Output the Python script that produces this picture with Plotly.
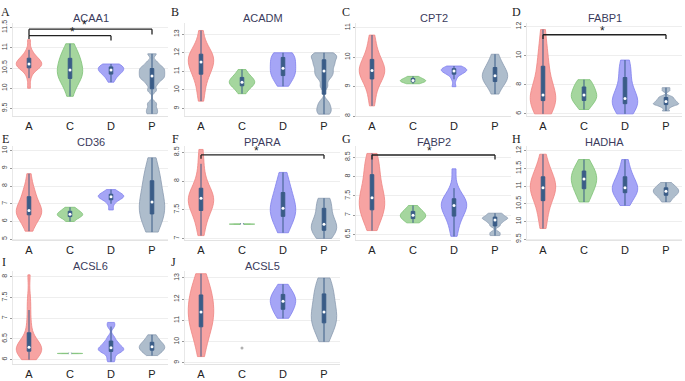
import numpy as np
import plotly.graph_objects as go

CATS = ["A", "C", "D", "P"]
GENES = ["ACAA1", "ACADM", "CPT2", "FABP1", "CD36", "PPARA", "FABP2", "HADHA", "ACSL6", "ACSL5"]
LETTERS = ["A", "B", "C", "D", "E", "F", "G", "H", "I", "J"]

# expression values per group
ACAA1 = {
    "A": [10.0, 10.25, 10.4, 10.47, 10.5, 10.52, 10.55, 10.58, 10.6, 10.6, 10.62, 10.65, 10.68, 10.72, 10.75, 10.78, 10.85, 10.95, 11.2],
    "C": [9.8, 10.0, 10.15, 10.22, 10.25, 10.3, 10.38, 10.42, 10.45, 10.5, 10.58, 10.65, 10.72, 10.8, 10.85, 10.92, 11.1],
    "D": [10.15, 10.25, 10.32, 10.36, 10.4, 10.42, 10.45, 10.48, 10.5, 10.52, 10.55, 10.58, 10.6],
    "P": [9.37, 9.48, 9.62, 9.95, 10.1, 10.2, 10.25, 10.3, 10.35, 10.4, 10.45, 10.5, 10.55, 10.65, 10.85],
}
ACADM = {
    "A": [9.4, 9.9, 10.3, 10.7, 10.9, 11.0, 11.2, 11.35, 11.5, 11.6, 11.7, 11.8, 11.9, 12.0, 12.2, 12.5, 13.2],
    "C": [9.8, 10.05, 10.2, 10.3, 10.38, 10.42, 10.5, 10.6, 10.7, 10.85, 11.1],
    "D": [10.2, 10.5, 10.7, 10.85, 11.0, 11.1, 11.25, 11.5, 11.7, 11.8, 11.9, 12.0],
    "P": [8.7, 8.9, 9.1, 9.35, 10.2, 10.6, 10.8, 10.95, 11.1, 11.3, 11.4, 11.55, 11.7, 11.8, 11.9, 12.0],
}
CPT2 = {
    "A": [8.35, 8.7, 8.95, 9.15, 9.3, 9.35, 9.45, 9.5, 9.55, 9.6, 9.7, 9.8, 9.9, 10.0, 10.2, 10.45, 10.75],
    "C": [9.1, 9.15, 9.18, 9.2, 9.22, 9.25, 9.3, 9.35],
    "D": [9.0, 9.25, 9.4, 9.45, 9.5, 9.52, 9.55, 9.58, 9.6, 9.62, 9.65, 9.7],
    "P": [8.75, 9.0, 9.15, 9.2, 9.3, 9.35, 9.4, 9.5, 9.6, 9.7, 9.85, 10.1],
}
FABP1 = {
    "A": [6.0, 6.3, 6.5, 6.7, 6.9, 6.95, 7.0, 7.1, 7.2, 7.3, 7.5, 7.9, 8.4, 8.9, 9.4, 9.6, 10.2, 11.0, 11.8],
    "C": [6.3, 6.6, 6.85, 6.95, 7.1, 7.2, 7.3, 7.45, 7.6, 7.8, 8.0, 8.15, 8.35],
    "D": [6.0, 6.3, 6.5, 6.7, 6.8, 6.9, 7.0, 7.1, 7.4, 7.9, 8.5, 9.0, 9.3, 9.7],
    "P": [6.2, 6.45, 6.6, 6.65, 6.7, 6.75, 6.85, 6.9, 7.0, 7.1, 7.2, 7.6, 7.8],
}
CD36 = {
    "A": [5.45, 5.8, 6.1, 6.3, 6.45, 6.5, 6.55, 6.6, 6.65, 6.8, 7.0, 7.3, 7.5, 7.7, 8.0, 8.7],
    "C": [6.0, 6.2, 6.3, 6.35, 6.4, 6.45, 6.55, 6.65, 6.8],
    "D": [6.65, 7.0, 7.2, 7.3, 7.35, 7.4, 7.45, 7.5, 7.55, 7.65, 7.8],
    "P": [5.4, 5.8, 6.1, 6.4, 6.5, 6.7, 6.9, 7.1, 7.3, 7.6, 8.0, 8.4, 8.6, 8.9, 9.6],
}
PPARA = {
    "A": [7.05, 7.2, 7.35, 7.45, 7.5, 7.55, 7.6, 7.65, 7.7, 7.72, 7.75, 7.8, 7.85, 7.95, 8.1, 8.3, 8.55],
    "C": [7.245, 7.25, 7.25, 7.255],
    "D": [7.1, 7.25, 7.35, 7.42, 7.48, 7.5, 7.55, 7.65, 7.75, 7.85, 7.95, 8.15],
    "P": [7.0, 7.08, 7.12, 7.15, 7.2, 7.22, 7.25, 7.3, 7.4, 7.5, 7.6, 7.65, 7.7],
}
FABP2 = {
    "A": [6.6, 6.85, 7.0, 7.1, 7.15, 7.2, 7.3, 7.4, 7.45, 7.55, 7.65, 7.8, 8.0, 8.2, 8.3, 8.45, 8.6],
    "C": [6.8, 6.88, 6.92, 6.97, 7.0, 7.03, 7.08, 7.15, 7.25],
    "D": [6.45, 6.7, 6.9, 7.0, 7.1, 7.2, 7.25, 7.3, 7.35, 7.4, 7.5, 7.7, 8.2],
    "P": [6.47, 6.55, 6.72, 6.8, 6.85, 6.9, 6.92, 6.95, 7.0, 7.05],
}
HADHA = {
    "A": [9.8, 10.1, 10.35, 10.55, 10.7, 10.8, 10.9, 10.95, 11.0, 11.05, 11.15, 11.3, 11.4, 11.55, 11.9],
    "C": [10.55, 10.75, 10.9, 11.0, 11.1, 11.2, 11.25, 11.35, 11.45, 11.55, 11.75],
    "D": [10.45, 10.65, 10.8, 10.85, 10.9, 10.95, 11.05, 11.15, 11.3, 11.45, 11.75],
    "P": [10.55, 10.7, 10.78, 10.83, 10.87, 10.92, 10.98, 11.1],
}
ACSL6 = {
    "A": [6.0, 6.05, 6.1, 6.15, 6.2, 6.22, 6.25, 6.28, 6.3, 6.3, 6.32, 6.35, 6.4, 6.5, 6.7, 6.9, 7.2, 7.5, 8.05],
    "C": [6.145, 6.15, 6.15, 6.155],
    "D": [5.95, 6.05, 6.15, 6.2, 6.22, 6.25, 6.28, 6.3, 6.35, 6.4, 6.45, 6.55, 6.8, 6.9],
    "P": [6.1, 6.18, 6.23, 6.27, 6.3, 6.33, 6.37, 6.42, 6.5, 6.6],
}
ACSL5 = {
    "A": [9.3, 9.8, 10.2, 10.5, 10.7, 10.9, 11.0, 11.15, 11.3, 11.5, 11.7, 11.9, 12.0, 12.2, 12.35, 12.6, 12.9, 13.2],
    "C": [9.7],
    "D": [11.1, 11.3, 11.45, 11.6, 11.75, 11.85, 11.95, 12.05, 12.15, 12.3, 12.45, 12.7],
    "P": [10.0, 10.4, 10.7, 10.85, 11.0, 11.1, 11.2, 11.4, 11.6, 11.9, 12.1, 12.3, 12.5, 12.8, 13.0],
}
DATA = {"ACAA1": ACAA1, "ACADM": ACADM, "CPT2": CPT2, "FABP1": FABP1, "CD36": CD36,
        "PPARA": PPARA, "FABP2": FABP2, "HADHA": HADHA, "ACSL6": ACSL6, "ACSL5": ACSL5}

# y axis ranges and tick steps
Y_RANGES = {"ACAA1": [9.31, 11.62], "ACADM": [8.59, 13.62], "CPT2": [8.0, 11.17], "FABP1": [5.84, 12.27],
            "CD36": [4.94, 10.28], "PPARA": [6.97, 8.615], "FABP2": [6.35, 8.80], "HADHA": [9.47, 12.14],
            "ACSL6": [5.89, 8.15], "ACSL5": [8.94, 13.34]}
Y_DTICK = {"ACAA1": 0.5, "ACADM": 1, "CPT2": 1, "FABP1": 2, "CD36": 1, "PPARA": 0.5,
           "FABP2": 0.5, "HADHA": 0.5, "ACSL6": 0.5, "ACSL5": 1}

# significance brackets: gene, from, to, bar level, left drop, right drop, star x
BRACKETS = [
    ("ACAA1", "A", "P", 11.46, 11.30, 11.33, 1.35),
    ("ACAA1", "A", "D", 11.30, 11.22, 11.18, 1.05),
    ("FABP1", "A", "P", 11.44, 11.14, 11.14, 1.45),
    ("PPARA", "A", "P", 8.455, 8.39, 8.39, 1.35),
    ("FABP2", "A", "P", 8.56, 8.44, 8.44, 1.4),
]

BW = {("ACAA1", "P"): 0.06, ("ACADM", "P"): 0.17, ("FABP1", "P"): 0.09, ("PPARA", "C"): 0.004,
      ("FABP2", "P"): 0.04, ("ACSL6", "C"): 0.004, ("ACSL6", "D"): 0.06}

FILL = {"A": "#f7a3a2", "C": "#a5d69e", "D": "#a5a5f6", "P": "#aebdcc"}
LINE = {"A": "#ef8583", "C": "#7dc176", "D": "#8080ee", "P": "#8b9cb1"}
BOX = "#3a5c87"

# panel geometry (pixels in a 685x381 canvas)
W, H = 685, 381
COL_X = [(12.6, 168.4), (184.6, 340.4), (355.6, 511.4), (526.6, 682.4)]
ROW_Y = [(20, 115), (145, 241), (272, 367)]
TITLE_Y = [15, 141, 267]
LETTER_POS = [(5, 9), (175, 9), (346, 9), (516, 9), (5, 138), (175, 138), (346, 138), (516, 138), (4, 263), (174, 263)]

fig = go.Figure()
layout = dict(width=W, height=H, margin=dict(l=0, r=0, t=0, b=0), paper_bgcolor="white",
              plot_bgcolor="white", violinmode="overlay", showlegend=False)
annotations = []
shapes = []

for i, gene in enumerate(GENES):
    r, c = divmod(i, 4)
    n = i + 1
    xa = "x" if n == 1 else f"x{n}"
    ya = "y" if n == 1 else f"y{n}"
    xk = "xaxis" if n == 1 else f"xaxis{n}"
    yk = "yaxis" if n == 1 else f"yaxis{n}"
    x0, x1 = COL_X[c]
    yt, yb = ROW_Y[r]
    layout[xk] = dict(domain=[x0 / W, x1 / W], anchor=ya, type="category", categoryorder="array",
                      categoryarray=CATS, range=[-0.4, 3.4], showgrid=False, zeroline=False,
                      showline=True, linecolor="#e3e3e3", linewidth=1, ticks="",
                      tickfont=dict(family="Liberation Sans, Arial", size=11, color="#222"))
    lo, hi = Y_RANGES[gene]
    d = Y_DTICK[gene]
    layout[yk] = dict(domain=[1 - yb / H, 1 - yt / H], anchor=xa, range=[lo, hi], dtick=d, tick0=0,
                      showgrid=True, gridcolor="#eeeeee", gridwidth=1, zeroline=False,
                      showline=True, linecolor="#e8e8e8", linewidth=1, ticks="outside", ticklen=2,
                      tickcolor="#999", tickangle=-90,
                      tickfont=dict(family="Liberation Sans, Arial", size=7, color="#444"))
    for cat in CATS:
        vals = DATA[gene][cat]
        if len(vals) == 1:
            fig.add_trace(go.Scatter(x=[cat], y=vals, xaxis=xa, yaxis=ya, mode="markers",
                                     marker=dict(size=3, color="#b0b0b0"), hoverinfo="skip"))
            continue
        kw = {}
        if (gene, cat) in BW:
            kw["bandwidth"] = BW[(gene, cat)]
        fig.add_trace(go.Violin(
            x=[cat] * len(vals), y=vals, xaxis=xa, yaxis=ya, name=f"{gene}-{cat}",
            fillcolor=FILL[cat], line=dict(color=LINE[cat], width=0.8), opacity=1,
            spanmode="hard", width=0.62, points=False, scalemode="width",
            box=dict(visible=True, width=0.14, fillcolor=BOX, line=dict(color=BOX, width=1)),
            meanline=dict(visible=False), hoverinfo="skip", **kw))
        fig.add_trace(go.Scatter(x=[cat], y=[float(np.median(vals))], xaxis=xa, yaxis=ya, mode="markers",
                                 marker=dict(size=3, color="white"), hoverinfo="skip"))
    annotations.append(dict(text=gene, x=(x0 + x1) / 2 / W, y=1 - TITLE_Y[r] / H, xref="paper",
                            yref="paper", showarrow=False, xanchor="center", yanchor="middle",
                            font=dict(family="Liberation Sans, Arial", size=11, color="#3b3b5c")))
    lx, ly = LETTER_POS[i]
    annotations.append(dict(text=LETTERS[i], x=lx / W, y=1 - ly / H, xref="paper", yref="paper",
                            showarrow=False, xanchor="center", yanchor="middle",
                            font=dict(family="Liberation Serif, DejaVu Serif", size=12, color="#222")))

for gene, a, b, ytop, yl, yr, sx in BRACKETS:
    n = GENES.index(gene) + 1
    xa = "x" if n == 1 else f"x{n}"
    ya = "y" if n == 1 else f"y{n}"
    ia, ib = CATS.index(a), CATS.index(b)
    for (px0, py0, px1, py1) in [(ia, yl, ia, ytop), (ia, ytop, ib, ytop), (ib, ytop, ib, yr)]:
        shapes.append(dict(type="line", xref=xa, yref=ya, x0=px0, y0=py0, x1=px1, y1=py1,
                           line=dict(color="#222", width=1.3)))
    annotations.append(dict(text="*", x=sx, y=ytop, xref=xa, yref=ya, showarrow=False,
                            yanchor="bottom", yshift=-5,
                            font=dict(family="Liberation Sans, Arial", size=12, color="#222")))

layout["annotations"] = annotations
layout["shapes"] = shapes
fig.update_layout(**layout)
fig.write_html("out.html", config={"displayModeBar": False},
               post_script="document.body.style.margin='0px';")
